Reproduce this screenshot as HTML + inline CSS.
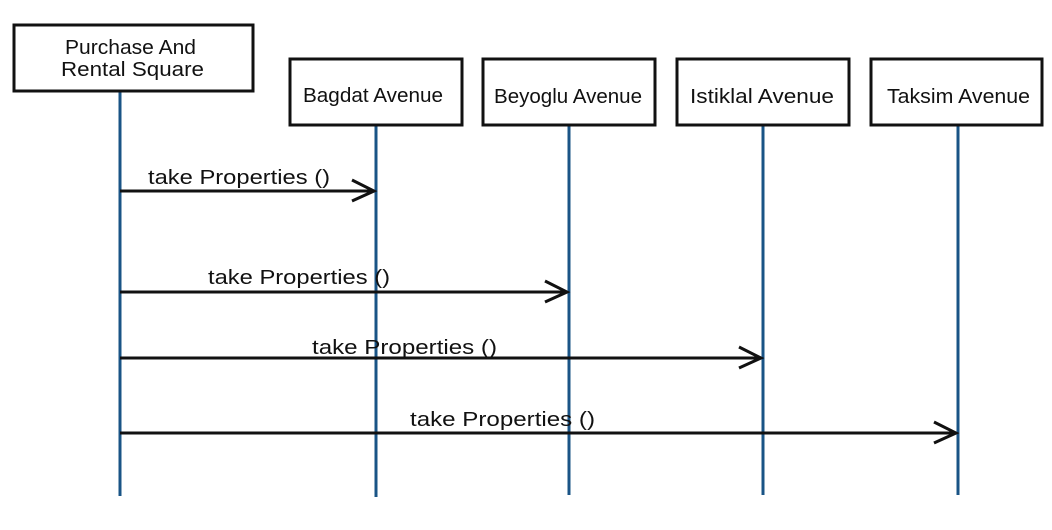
<!DOCTYPE html>
<html><head><style>
body{margin:0;background:#fff;width:1052px;height:525px;overflow:hidden}
text{font-family:"Liberation Sans",sans-serif;fill:#111}
</style></head><body>
<svg width="1052" height="525" xmlns="http://www.w3.org/2000/svg">
<g stroke="#1a5486" stroke-width="3">
<line x1="120" y1="91" x2="120" y2="496"/>
<line x1="376" y1="125" x2="376" y2="497"/>
<line x1="569" y1="125" x2="569" y2="495"/>
<line x1="763" y1="125" x2="763" y2="495"/>
<line x1="958" y1="125" x2="958" y2="495"/>
</g>
<g fill="#fff" stroke="#111" stroke-width="3">
<rect x="14" y="25" width="239" height="66"/>
<rect x="290" y="59" width="172" height="66"/>
<rect x="483" y="59" width="172" height="66"/>
<rect x="677" y="59" width="172" height="66"/>
<rect x="871" y="59" width="171" height="66"/>
</g>
<g font-size="20">
<text x="65" y="54" textLength="131" lengthAdjust="spacingAndGlyphs">Purchase And</text>
<text x="61" y="76" textLength="143" lengthAdjust="spacingAndGlyphs">Rental Square</text>
<text x="303" y="102" textLength="140" lengthAdjust="spacingAndGlyphs">Bagdat Avenue</text>
<text x="494" y="103" textLength="148" lengthAdjust="spacingAndGlyphs">Beyoglu Avenue</text>
<text x="690" y="103" textLength="144" lengthAdjust="spacingAndGlyphs">Istiklal Avenue</text>
<text x="887" y="103" textLength="143" lengthAdjust="spacingAndGlyphs">Taksim Avenue</text>
</g>
<g stroke="#111" stroke-width="3" fill="none">
<line x1="120" y1="191" x2="374" y2="191"/>
<polyline points="352,180 374,191 352,201"/>
<line x1="120" y1="292" x2="567" y2="292"/>
<polyline points="545,281 567,292 545,302"/>
<line x1="120" y1="358" x2="761" y2="358"/>
<polyline points="739,347 761,358 739,368"/>
<line x1="120" y1="433" x2="956" y2="433"/>
<polyline points="934,422 956,433 934,443"/>
</g>
<g font-size="20">
<text x="148" y="184" textLength="182" lengthAdjust="spacingAndGlyphs">take Properties ()</text>
<text x="208" y="284" textLength="182" lengthAdjust="spacingAndGlyphs">take Properties ()</text>
<text x="312" y="354" textLength="185" lengthAdjust="spacingAndGlyphs">take Properties ()</text>
<text x="410" y="426" textLength="185" lengthAdjust="spacingAndGlyphs">take Properties ()</text>
</g>
</svg>
</body></html>
